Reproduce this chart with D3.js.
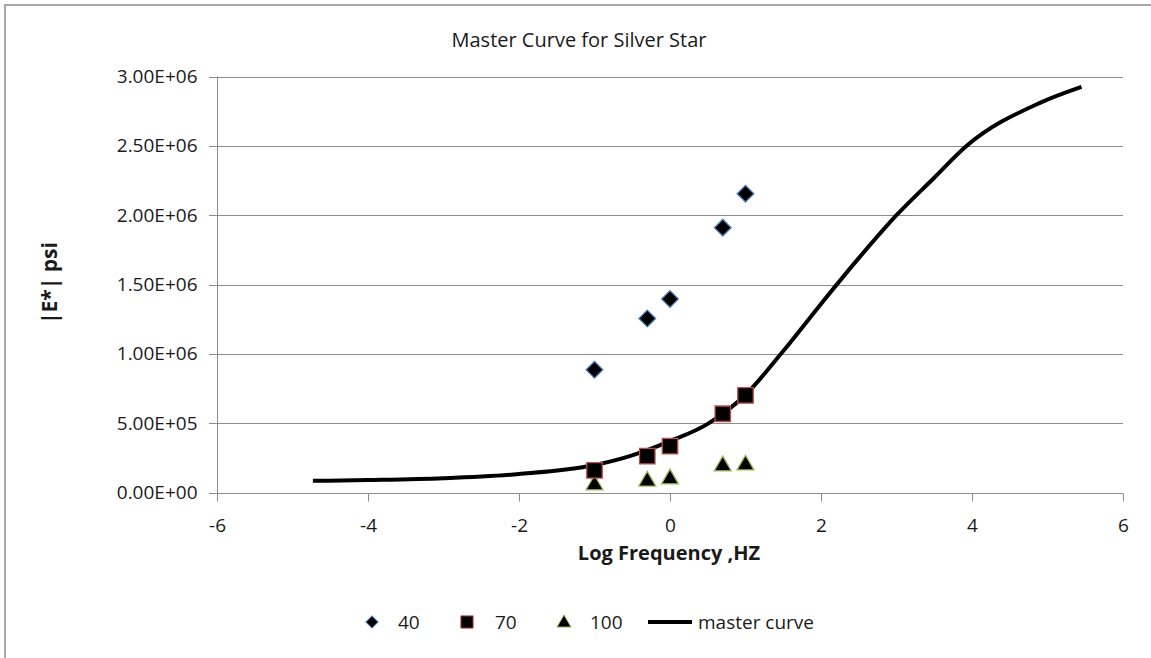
<!DOCTYPE html>
<html>
<head>
<meta charset="utf-8">
<script src="https://cdn.jsdelivr.net/npm/d3@7"></script>
<style>
  body { margin: 0; background: #fff; }
  svg text { font-family: 'Open Sans', sans-serif; fill: #1a1a1a; }
</style>
</head>
<body>
<svg id="chart" width="1151" height="658"></svg>
<script>
// log frequency (Hz) of the test points
const logFreq = [-1, -0.301, 0, 0.699, 1];

// |E*| in psi for each temperature
const e40 = [885000, 1255000, 1395000, 1910000, 2155000];
const e70 = [160000, 262000, 334000, 568000, 700000];
const e100 = [55000, 82000, 98000, 192000, 198000];

// master curve
const masterX = [-4.73, -4, -3, -2, -1, -0.5, 0, 0.5, 1, 1.5, 2, 2.5, 3, 3.5, 3.93, 4.9, 5.45];
const masterY = [84000, 90000, 103000, 133000, 198000, 268000, 370000, 495000, 705000, 1020000, 1360000, 1690000, 2000000, 2270000, 2500000, 2810000, 2925000];

const xTicks = [-6, -4, -2, 0, 2, 4, 6];
const yTicks = [0, 500000, 1000000, 1500000, 2000000, 2500000, 3000000];

const svg = d3.select('#chart');

const plot = { left: 217, right: 1123, top: 76.5, bottom: 492.5 };

const x = d3.scaleLinear().domain([-6, 6]).range([plot.left, plot.right]);
const y = d3.scaleLinear().domain([0, 3000000]).range([plot.bottom, plot.top]);

const sci = d => {
  if (d === 0) return '0.00E+00';
  const exp = Math.floor(Math.log10(d));
  const mant = d / Math.pow(10, exp);
  return mant.toFixed(2) + 'E+' + String(exp).padStart(2, '0');
};

// outer frame
svg.append('rect')
  .attr('x', 5).attr('y', 5)
  .attr('width', 1170).attr('height', 680)
  .attr('fill', 'none')
  .attr('stroke', '#8c8c8c')
  .attr('stroke-width', 1.5);

// gridlines
svg.append('g')
  .selectAll('line')
  .data(yTicks)
  .join('line')
  .attr('x1', plot.left - 8)
  .attr('x2', plot.right)
  .attr('y1', d => Math.round(y(d)) + 0.5)
  .attr('y2', d => Math.round(y(d)) + 0.5)
  .attr('stroke', '#8c8c8c')
  .attr('stroke-width', 1);

// y axis
const yAxis = svg.append('g')
  .attr('transform', `translate(${plot.left + 0.5},0)`)
  .call(d3.axisLeft(y).tickValues(yTicks).tickFormat(sci).tickSize(8).tickPadding(12));
yAxis.select('.domain').attr('stroke', '#8c8c8c').attr('d', `M0,${plot.top}V${plot.bottom + 8}`);
yAxis.selectAll('.tick line').attr('stroke', 'none');
yAxis.selectAll('.tick text')
  .attr('font-size', 19)
  .style('font-family', "'Open Sans', sans-serif");

// x axis
const xAxis = svg.append('g')
  .attr('transform', `translate(0,${Math.round(plot.bottom) + 0.5})`)
  .call(d3.axisBottom(x).tickValues(xTicks).tickFormat(d3.format('d')).tickSize(8).tickPadding(17));
xAxis.select('.domain').attr('stroke', 'none');
xAxis.selectAll('.tick line').attr('stroke', '#8c8c8c');
xAxis.selectAll('.tick text')
  .attr('font-size', 19)
  .style('font-family', "'Open Sans', sans-serif")
  .text(d => d < 0 ? '-' + Math.abs(d) : d);

// master curve
const line = d3.line()
  .x(d => x(d[0]))
  .y(d => y(d[1]))
  .curve(d3.curveMonotoneX);

svg.append('path')
  .datum(d3.zip(masterX, masterY))
  .attr('d', line)
  .attr('fill', 'none')
  .attr('stroke', '#000')
  .attr('stroke-width', 4)
  .attr('stroke-linejoin', 'round');

// markers
const diamond = d3.symbol(d3.symbolSquare, 140);
const square = d3.symbol(d3.symbolSquare, 240);
const triangle = d3.symbol(d3.symbolTriangle, 125);

svg.append('g')
  .selectAll('path')
  .data(d3.zip(logFreq, e100))
  .join('path')
  .attr('d', triangle)
  .attr('transform', d => `translate(${x(d[0])},${y(d[1])})`)
  .attr('fill', '#000')
  .attr('stroke', '#9bbb59')
  .attr('stroke-width', 1.3);

svg.append('g')
  .selectAll('path')
  .data(d3.zip(logFreq, e70))
  .join('path')
  .attr('d', square)
  .attr('transform', d => `translate(${x(d[0])},${y(d[1])})`)
  .attr('fill', '#000')
  .attr('stroke', '#c0504d')
  .attr('stroke-width', 1.3);

svg.append('g')
  .selectAll('path')
  .data(d3.zip(logFreq, e40))
  .join('path')
  .attr('d', diamond)
  .attr('transform', d => `translate(${x(d[0])},${y(d[1])}) rotate(45)`)
  .attr('fill', '#000')
  .attr('stroke', '#4f81bd')
  .attr('stroke-width', 1.3);

// title
svg.append('text')
  .attr('x', 579)
  .attr('y', 47)
  .attr('text-anchor', 'middle')
  .attr('font-size', 20)
  .text('Master Curve for Silver Star');

// axis titles
svg.append('text')
  .attr('x', 669)
  .attr('y', 560)
  .attr('text-anchor', 'middle')
  .attr('font-size', 20)
  .attr('font-weight', 'bold')
  .text('Log Frequency ,HZ');

svg.append('text')
  .attr('transform', 'translate(57,283) rotate(-90)')
  .attr('text-anchor', 'middle')
  .attr('font-size', 21)
  .attr('font-weight', 'bold')
  .text('|E*| psi');

// legend
const legendY = 622;
const legend = svg.append('g');

legend.append('path')
  .attr('d', d3.symbol(d3.symbolSquare, 75))
  .attr('transform', `translate(372,${legendY}) rotate(45)`)
  .attr('fill', '#000').attr('stroke', '#4f81bd').attr('stroke-width', 1);
legend.append('path')
  .attr('d', d3.symbol(d3.symbolSquare, 150))
  .attr('transform', `translate(467,${legendY})`)
  .attr('fill', '#000').attr('stroke', '#c0504d').attr('stroke-width', 1);
legend.append('path')
  .attr('d', d3.symbol(d3.symbolTriangle, 85))
  .attr('transform', `translate(564,${legendY + 1})`)
  .attr('fill', '#000').attr('stroke', '#9bbb59').attr('stroke-width', 1);
legend.append('line')
  .attr('x1', 648).attr('x2', 692)
  .attr('y1', legendY).attr('y2', legendY)
  .attr('stroke', '#000').attr('stroke-width', 4);

const legendLabels = [['40', 398], ['70', 495], ['100', 590], ['master curve', 698]];
legend.selectAll('text')
  .data(legendLabels)
  .join('text')
  .attr('x', d => d[1])
  .attr('y', legendY + 7)
  .attr('font-size', 19)
  .text(d => d[0]);
</script>
</body>
</html>
